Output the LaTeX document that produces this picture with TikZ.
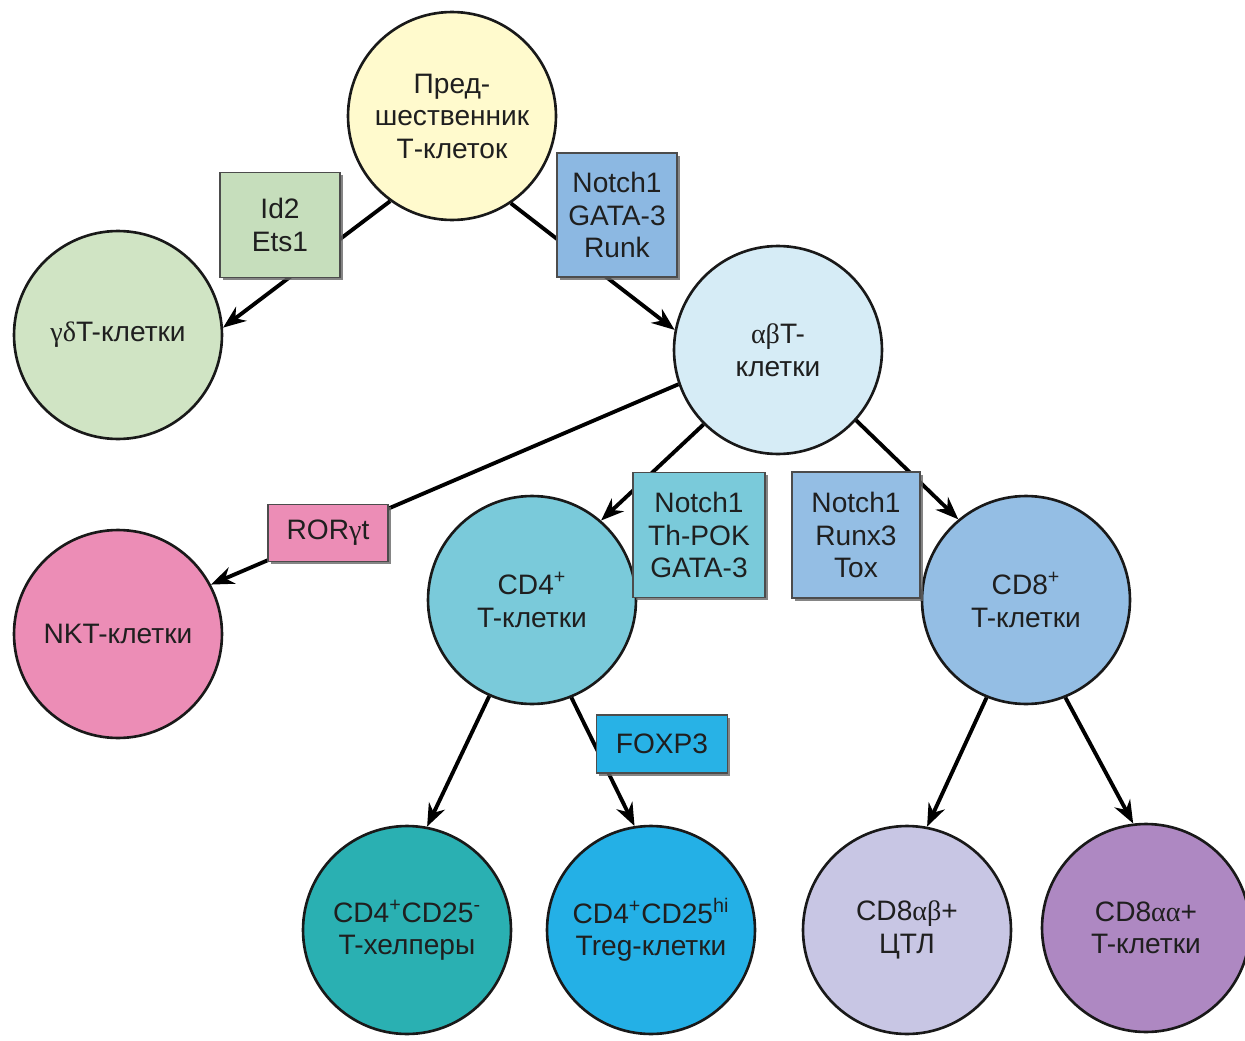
\documentclass[tikz,border=0pt]{standalone}
\usepackage{fontspec}
\setmainfont{Liberation Sans}
\newfontfamily\grk{Liberation Serif}
\usetikzlibrary{shapes,arrows.meta,positioning,shadows}
\usepackage{xcolor}
\definecolor{precursor}{RGB}{255,250,205}
\definecolor{gdgreen}{RGB}{208,228,196}
\definecolor{idgreen}{RGB}{198,222,188}
\definecolor{abblue}{RGB}{214,236,246}
\definecolor{notchblue}{RGB}{140,184,226}
\definecolor{nktpink}{RGB}{236,141,182}
\definecolor{cdfourteal}{RGB}{122,202,218}
\definecolor{cdeightblue}{RGB}{148,190,228}
\definecolor{foxblue}{RGB}{40,178,230}
\definecolor{helperteal}{RGB}{42,176,178}
\definecolor{tregblue}{RGB}{36,176,230}
\definecolor{ctllav}{RGB}{200,198,228}
\definecolor{aapurple}{RGB}{174,136,194}
\tikzset{
    cell/.style={circle, draw=black!90, line width=1.5pt, minimum size=4.16cm, inner sep=0pt, align=center, text=black!88, font=\fontsize{16}{18.5}\selectfont},
    factor/.style={rectangle, draw=black!70, line width=0.9pt, inner sep=2pt, align=center, text=black!88, font=\fontsize{16}{18.5}\selectfont, drop shadow={shadow xshift=1.6pt, shadow yshift=-1.6pt, fill=black!60, opacity=0.8}},
    link/.style={line width=2.2pt, -{Stealth[length=13pt,width=10pt]}}
}

\begin{document}
\begin{tikzpicture}[x=0.02cm,y=-0.02cm]
    \useasboundingbox (0,0) rectangle (1245,1041);

    % Cells
    \node[cell, fill=precursor] (pre) at (452,116) {Пред-\\шественник\\Т-клеток};
    \node[cell, fill=gdgreen] (gd) at (118,335) {{\grk γδ}T-клетки};
    \node[cell, fill=abblue] (ab) at (778,350) {{\grk αβ}T-\\клетки};
    \node[cell, fill=nktpink] (nkt) at (118,634) {NKT-клетки};
    \node[cell, fill=cdfourteal] (cdfour) at (532,600) {CD4\textsuperscript{+}\\T-клетки};
    \node[cell, fill=cdeightblue] (cdeight) at (1026,600) {CD8\textsuperscript{+}\\T-клетки};
    \node[cell, fill=helperteal] (thelp) at (407,930) {CD4\textsuperscript{+}CD25\textsuperscript{-}\\T-хелперы};
    \node[cell, fill=tregblue] (treg) at (651,930) {CD4\textsuperscript{+}CD25\textsuperscript{hi}\\Treg-клетки};
    \node[cell, fill=ctllav] (ctl) at (907,930) {CD8{\grk αβ}+\\ЦТЛ};
    \node[cell, fill=aapurple] (cdaa) at (1146,928) {CD8{\grk αα}+\\T-клетки};

    % Differentiation arrows
    \draw[link] (pre.234) -- (gd.4);
    \draw[link] (pre.304) -- (ab.169);
    \draw[link] (ab.199) -- (nkt.28);
    \draw[link] (ab.225) -- (cdfour.49);
    \draw[link] (ab.318) -- (cdeight.130);
    \draw[link] (cdfour.246) -- (thelp.79);
    \draw[link] (cdfour.292) -- (treg.99);
    \draw[link] (cdeight.248) -- (ctl.79);
    \draw[link] (cdeight.292) -- (cdaa.97);

    % Transcription factors
    \node[factor, fill=idgreen, minimum width=2.4cm, minimum height=2.1cm] (idbox) at (280,225) {Id2\\Ets1};
    \node[factor, fill=notchblue, minimum width=2.4cm, minimum height=2.48cm] (notchbox) at (617,215) {Notch1\\GATA-3\\Runk};
    \node[factor, fill=nktpink, minimum width=2.4cm, minimum height=1.14cm] (rorbox) at (328,533) {ROR{\grk γ}t};
    \node[factor, fill=cdfourteal, minimum width=2.64cm, minimum height=2.5cm] (thpokbox) at (699,535) {Notch1\\Th-POK\\GATA-3};
    \node[factor, fill=cdeightblue, minimum width=2.56cm, minimum height=2.52cm] (runxbox) at (856,535) {Notch1\\Runx3\\Tox};
    \node[factor, fill=foxblue, minimum width=2.62cm, minimum height=1.16cm] (foxbox) at (662,744) {FOXP3};
\end{tikzpicture}
\end{document}
